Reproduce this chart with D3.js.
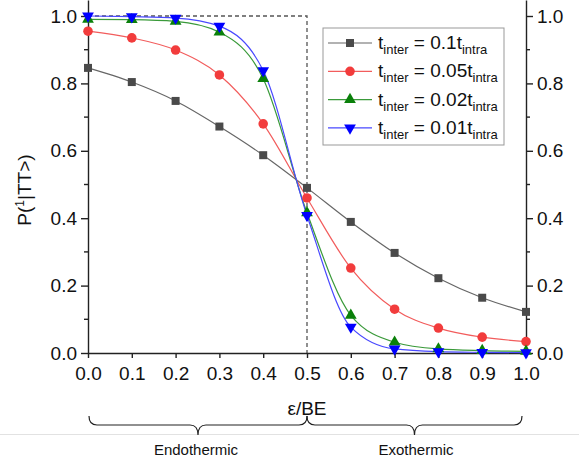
<!DOCTYPE html>
<html>
  <head>
    <meta charset="utf-8">
    <title>P vs epsilon/BE</title>
    <style>
      body { margin: 0; background: #fff; }
      svg { font-family: Arial, "Liberation Sans", sans-serif; }
      .axis path, .axis line { stroke: #222; stroke-width: 1.4px; }
      .axis text { font-size: 19px; fill: #111; }
    </style>
  </head>
  <body>
    <svg width="579" height="464"></svg>

    <script src="https://d3js.org/d3.v7.min.js"></script>
    <script>
      // x values (epsilon / BE)
      const xs = [0, 0.1, 0.2, 0.3, 0.4, 0.5, 0.6, 0.7, 0.8, 0.9, 1.0];

      // series
      const p01  = [0.846, 0.804, 0.748, 0.672, 0.587, 0.490, 0.389, 0.297, 0.222, 0.164, 0.122];
      const p005 = [0.955, 0.935, 0.899, 0.825, 0.680, 0.460, 0.252, 0.130, 0.074, 0.047, 0.034];
      const p002 = [0.990, 0.989, 0.984, 0.952, 0.814, 0.416, 0.112, 0.032, 0.012, 0.007, 0.005];
      const p001 = [1.000, 0.998, 0.994, 0.970, 0.838, 0.408, 0.077, 0.012, 0.004, 0.002, 0.001];

      const seriesNames = ['0.1', '0.05', '0.02', '0.01'];
      const xTicks = [0, 0.1, 0.2, 0.3, 0.4, 0.5, 0.6, 0.7, 0.8, 0.9, 1.0];
      const yTicks = [0, 0.2, 0.4, 0.6, 0.8, 1.0];
      const yMinor = [0.1, 0.3, 0.5, 0.7, 0.9];

      const series = [
        { name: seriesNames[0], values: p01,  line: '#666666', fill: '#4a4a4a', shape: d3.symbolSquare,   size: 64 },
        { name: seriesNames[1], values: p005, line: '#f25c5c', fill: '#f23c3c', shape: d3.symbolCircle,   size: 72 },
        { name: seriesNames[2], values: p002, line: '#3a9a3a', fill: '#0a800a', shape: d3.symbolTriangle, size: 60 },
        { name: seriesNames[3], values: p001, line: '#4848ff', fill: '#0000ff', shape: d3.symbolTriangle, size: 60, flip: true }
      ];

      const svg = d3.select('svg');

      const x = d3.scaleLinear().domain([0, 1]).range([88, 526]);
      const y = d3.scaleLinear().domain([0, 1.0475]).range([353, 0]);

      // dashed guide: y = 1 up to x = 0.5, then down
      svg.append('path')
        .attr('d', `M${x(0)},${y(1)}H${x(0.5)}V${y(0)}`)
        .attr('fill', 'none')
        .attr('stroke', '#555')
        .attr('stroke-width', 1.3)
        .attr('stroke-dasharray', '4,3');

      // axes
      const left = svg.append('g').attr('class', 'axis')
        .attr('transform', `translate(${x(0)},0)`)
        .call(d3.axisLeft(y).tickValues(yTicks).tickFormat(d3.format('.1f')).tickSize(7).tickSizeOuter(0).tickPadding(4));
      left.append('g').selectAll('line').data(yMinor).join('line')
        .attr('x1', 0).attr('x2', -4).attr('y1', d => y(d)).attr('y2', d => y(d));

      const right = svg.append('g').attr('class', 'axis')
        .attr('transform', `translate(${x(1)},0)`)
        .call(d3.axisRight(y).tickValues(yTicks).tickFormat(d3.format('.1f')).tickSize(7).tickSizeOuter(0).tickPadding(4));
      right.append('g').selectAll('line').data(yMinor).join('line')
        .attr('x1', 0).attr('x2', 4).attr('y1', d => y(d)).attr('y2', d => y(d));

      svg.append('g').attr('class', 'axis')
        .attr('transform', `translate(0,${y(0)})`)
        .call(d3.axisBottom(x).tickValues(xTicks).tickFormat(d3.format('.1f')).tickSize(5).tickSizeOuter(0).tickPadding(9));

      // lines and markers
      const line = d3.line()
        .x((d, i) => x(xs[i]))
        .y(d => y(d))
        .curve(d3.curveMonotoneX);

      series.forEach(s => {
        svg.append('path')
          .attr('d', line(s.values))
          .attr('fill', 'none')
          .attr('stroke', s.line)
          .attr('stroke-width', 1.2);
      });
      series.forEach(s => {
        svg.append('g').selectAll('path').data(s.values).join('path')
          .attr('d', d3.symbol(s.shape, s.size))
          .attr('transform', (d, i) => `translate(${x(xs[i])},${y(d)})${s.flip ? ' rotate(180)' : ''}`)
          .attr('fill', s.fill);
      });

      // legend
      const lg = svg.append('g').attr('transform', 'translate(323,28)');
      lg.append('rect')
        .attr('width', 181).attr('height', 117)
        .attr('fill', '#fff').attr('stroke', '#999').attr('stroke-width', 1);
      series.forEach((s, i) => {
        const row = lg.append('g').attr('transform', `translate(0,${15 + i * 28.3})`);
        row.append('line').attr('x1', 5).attr('x2', 49).attr('stroke', s.line).attr('stroke-width', 1.2);
        row.append('path')
          .attr('d', d3.symbol(s.shape, s.size)())
          .attr('transform', `translate(27,0)${s.flip ? ' rotate(180)' : ''}`)
          .attr('fill', s.fill);
        const t = row.append('text').attr('x', 55).attr('y', 6)
          .attr('font-size', 19).attr('fill', '#111');
        t.append('tspan').text('t');
        t.append('tspan').attr('font-size', 13).attr('dy', 5).text('inter');
        t.append('tspan').attr('dy', -5).text(` = ${s.name}t`);
        t.append('tspan').attr('font-size', 13).attr('dy', 5).text('intra');
      });

      // y label
      const yl = svg.append('text')
        .attr('transform', 'translate(31,190) rotate(-90)')
        .attr('text-anchor', 'middle')
        .attr('font-size', 19).attr('fill', '#111');
      yl.append('tspan').text('P(');
      yl.append('tspan').attr('font-size', 12).attr('dy', -7).text('1');
      yl.append('tspan').attr('dy', 7).text('|TT>)');

      // x label
      svg.append('text')
        .attr('x', x(0.5)).attr('y', 415)
        .attr('text-anchor', 'middle')
        .attr('font-size', 19).attr('fill', '#111')
        .text('ε/BE');

      // separator
      svg.append('line')
        .attr('x1', 0).attr('x2', 579).attr('y1', 434.5).attr('y2', 434.5)
        .attr('stroke', '#e2e2e2').attr('stroke-width', 1);

      // braces
      function brace(x0, x1, top, depth) {
        const m = (x0 + x1) / 2, r = 8, mid = top + depth;
        return `M${x0},${top} Q${x0},${mid - 1} ${x0 + r},${mid - 1}` +
          ` H${m - r} Q${m},${mid - 1} ${m},${mid + 9}` +
          ` Q${m},${mid - 1} ${m + r},${mid - 1}` +
          ` H${x1 - r} Q${x1},${mid - 1} ${x1},${top}`;
      }
      [[x(0) + 1, x(0.5)], [x(0.5), x(1) - 4]].forEach(([a, b]) => {
        svg.append('path')
          .attr('d', brace(a, b, 416, 10))
          .attr('fill', 'none').attr('stroke', '#222').attr('stroke-width', 1.2);
      });

      svg.append('text').attr('x', 196).attr('y', 455)
        .attr('text-anchor', 'middle').attr('font-size', 15).attr('fill', '#111')
        .text('Endothermic');
      svg.append('text').attr('x', 416).attr('y', 455)
        .attr('text-anchor', 'middle').attr('font-size', 15).attr('fill', '#111')
        .text('Exothermic');
    </script>
  </body>
</html>
